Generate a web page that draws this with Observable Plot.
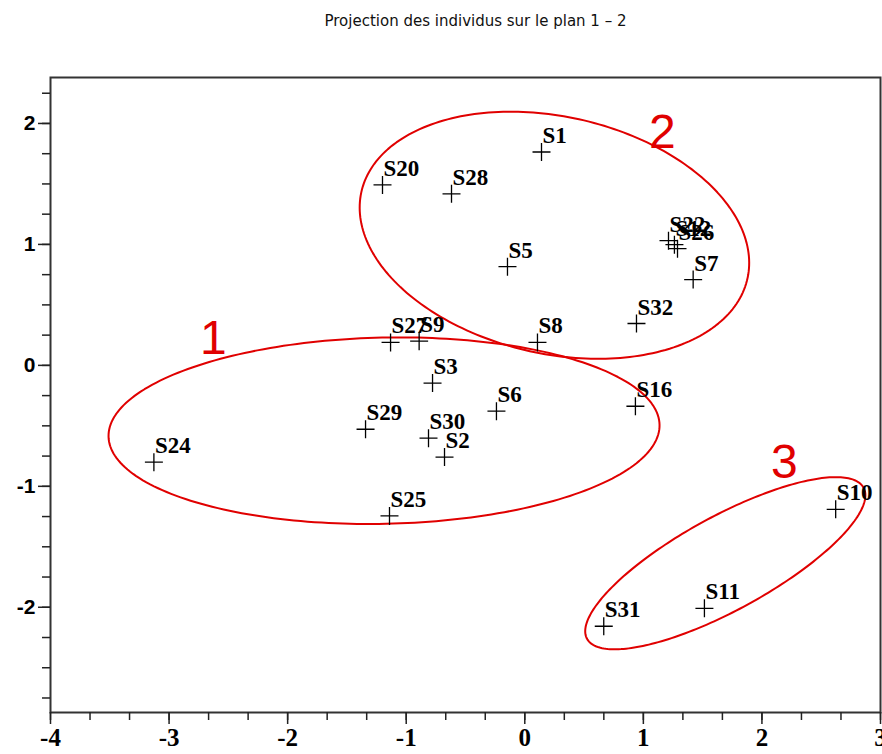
<!DOCTYPE html>
<html>
<head>
<meta charset="utf-8">
<script src="https://cdn.jsdelivr.net/npm/d3@7"></script>
<script src="https://cdn.jsdelivr.net/npm/@observablehq/plot@0.6"></script>
<style>
  html, body { margin: 0; padding: 0; background: #fff; overflow: hidden; }
  #chart svg { display: block; }
</style>
</head>
<body>
<div id="chart"></div>
<script>
// ---- Data ----
const labels = ["S1","S20","S28","S5","S22","S12","S26","S7","S32","S8","S27","S9","S3","S6","S16","S29","S30","S2","S24","S25","S10","S11","S31"];
const axis1 = [0.141,-1.200,-0.618,-0.146,1.212,1.262,1.288,1.420,0.942,0.107,-1.132,-0.891,-0.778,-0.239,0.933,-1.343,-0.812,-0.677,-3.128,-1.141,2.622,1.515,0.666];
const axis2 = [1.764,1.492,1.418,0.816,1.031,0.998,0.965,0.709,0.346,0.190,0.190,0.200,-0.146,-0.379,-0.338,-0.528,-0.602,-0.758,-0.800,-1.245,-1.190,-2.009,-2.157];

const xTicks = [-4,-3,-2,-1,0,1,2,3];
const yTicks = [-2,-1,0,1,2];

// cluster ellipses (data units, angle in degrees)
const clusterIds = [1, 2, 3];
const clusterCx = [-1.187, 0.250, 1.691];
const clusterCy = [-0.540, 1.076, -1.636];
const clusterA = [2.324, 1.667, 1.323];
const clusterB = [0.770, 0.981, 0.390];
const clusterAngle = [1.2, -12.2, 28.1];

const clusterLabelText = ["1", "2", "3"];
const clusterLabelX = [-2.627, 1.16, 2.19];
const clusterLabelY = [0.093, 1.80, -0.934];

const title = "Projection des individus sur le plan 1 – 2";

// ---- Build tables ----
const points = labels.map((name, i) => ({name, x: axis1[i], y: axis2[i]}));

const ellipsePts = [];
clusterIds.forEach((id, k) => {
  const th = clusterAngle[k] * Math.PI / 180;
  for (let i = 0; i <= 240; i++) {
    const t = i / 240 * 2 * Math.PI;
    const u = clusterA[k] * Math.cos(t), v = clusterB[k] * Math.sin(t);
    ellipsePts.push({id, x: clusterCx[k] + u * Math.cos(th) - v * Math.sin(th), y: clusterCy[k] + u * Math.sin(th) + v * Math.cos(th)});
  }
});
const clusterLabels = clusterLabelText.map((t, i) => ({t, x: clusterLabelX[i], y: clusterLabelY[i]}));

const xMinor = d3.range(-4, 3.0001, 1/3);
const yMinor = d3.range(-2.75, 2.3, 0.25);

const crossSymbol = {
  draw(ctx, size) {
    const r = Math.sqrt(size / Math.PI);
    ctx.moveTo(-r, 0); ctx.lineTo(r, 0);
    ctx.moveTo(0, -r); ctx.lineTo(0, r);
  }
};

const chart = Plot.plot({
  width: 882,
  height: 754,
  marginLeft: 50,
  marginRight: 2,
  marginTop: 77,
  marginBottom: 42,
  style: {background: "#fff", color: "#000"},
  x: {domain: [-4, 3]},
  y: {domain: [-2.87, 2.38]},
  marks: [
    Plot.frame({stroke: "#333", strokeWidth: 2}),
    Plot.axisX({ticks: xMinor, tickSize: 8, tickFormat: () => "", label: null, stroke: "#222", strokeWidth: 1.5}),
    Plot.axisX({ticks: xTicks, tickSize: 12, tickPadding: 4, label: null, stroke: "#222", strokeWidth: 1.5,
      tickFormat: d => String(d), fontSize: 25, fontWeight: "bold", fontFamily: "Liberation Serif", fill: "#000"}),
    Plot.axisY({ticks: yMinor, tickSize: 8, tickFormat: () => "", label: null, stroke: "#222", strokeWidth: 1.5}),
    Plot.axisY({ticks: yTicks, tickSize: 12, tickPadding: 3, label: null, stroke: "#222", strokeWidth: 1.5,
      tickFormat: d => String(d), fontSize: 21, fontWeight: "bold", fontFamily: "Liberation Sans", fill: "#000"}),
    Plot.line(ellipsePts, {x: "x", y: "y", z: "id", stroke: "#e00000", strokeWidth: 2}),
    Plot.dot(points, {x: "x", y: "y", symbol: crossSymbol, r: 9, stroke: "#000", fill: "none", strokeWidth: 1.3}),
    Plot.text(points, {x: "x", y: "y", text: "name", textAnchor: "start", lineAnchor: "bottom", dx: 1, dy: -9,
      fontSize: 23, fontWeight: "bold", fontFamily: "Liberation Serif", fill: "#000"}),
    Plot.text(clusterLabels, {x: "x", y: "y", text: "t", textAnchor: "middle", lineAnchor: "bottom",
      fontSize: 48, fontFamily: "Liberation Sans", fill: "#e00000"}),
    Plot.text([title], {frameAnchor: "top", text: d => d, lineAnchor: "bottom", dx: 10, dy: -52,
      fontSize: 15, fontFamily: "DejaVu Sans", fill: "#111", letterSpacing: "0.9px"})
  ]
});
document.getElementById("chart").appendChild(chart);
</script>
</body>
</html>
